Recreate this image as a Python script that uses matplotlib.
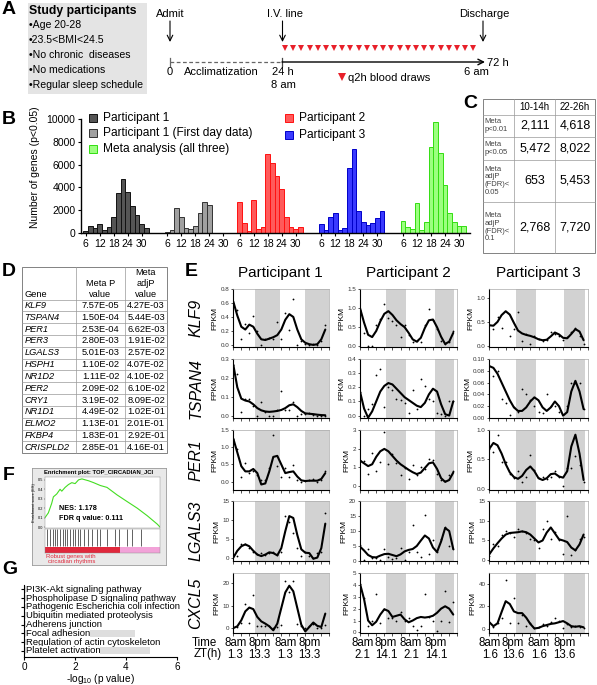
import matplotlib
matplotlib.use("Agg")
import matplotlib.pyplot as plt
from matplotlib.patches import Rectangle
from matplotlib.ticker import FormatStrFormatter
import numpy as np

plt.rcParams['font.family'] = ['Liberation Sans', 'DejaVu Sans']
plt.rcParams['mathtext.default'] = 'regular'

# ---------------- data ----------------

# panel A
participant_info = ["•Age 20-28", "•23.5<BMI<24.5", "•No chronic  diseases",
                    "•No medications", "•Regular sleep schedule"]
draw_hours = [24, 26, 28, 30, 32, 34, 36, 38, 40, 42, 44, 46,
              48, 50, 52, 54, 56, 58, 60, 62, 64, 66, 68, 70]

# panel B (period in hours, number of genes)
periods_p1 = [6, 8, 10, 12, 14, 16, 18, 20, 22, 24, 26, 28, 30, 32]
counts_p1 = [150, 650, 450, 800, 250, 500, 1400, 3550, 4750, 3600, 2350, 1600, 800, 400]
periods_p1_day1 = [6, 8, 10, 12, 14, 16, 18, 20, 22, 24]
counts_p1_day1 = [50, 300, 2200, 1400, 450, 350, 600, 1750, 2700, 2450]
periods_p2 = [6, 8, 10, 12, 14, 16, 18, 20, 22, 24, 26, 28, 30, 32]
counts_p2 = [2700, 900, 200, 2900, 350, 500, 6900, 6150, 5000, 3900, 1400, 550, 350, 500]
periods_p3 = [6, 8, 10, 12, 14, 16, 18, 20, 22, 24, 26, 28, 30, 32]
counts_p3 = [800, 300, 1400, 1750, 250, 400, 5700, 7400, 1900, 950, 700, 900, 1300, 1900]
periods_meta = [6, 8, 10, 12, 14, 16, 18, 20, 22, 24, 26, 28, 30, 32]
counts_meta = [1080, 550, 380, 2630, 260, 940, 7570, 9700, 7000, 4200, 1780, 990, 610, 610]
b_ticks = [6, 12, 18, 24, 30]

# panel C
c_cols = ["10-14h", "22-26h"]
c_rows = ["Meta\np<0.01", "Meta\np<0.05", "Meta\nadjP\n(FDR)<\n0.05", "Meta\nadjP\n(FDR)<\n0.1"]
c_10_14 = ["2,111", "5,472", "653", "2,768"]
c_22_26 = ["4,618", "8,022", "5,453", "7,720"]

# panel D
d_genes = ["KLF9", "TSPAN4", "PER1", "PER3", "LGALS3", "HSPH1", "NR1D2",
           "PER2", "CRY1", "NR1D1", "ELMO2", "FKBP4", "CRISPLD2"]
d_meta_p = ["7.57E-05", "1.50E-04", "2.53E-04", "2.80E-03", "5.01E-03", "1.10E-02", "1.11E-02",
            "2.09E-02", "3.19E-02", "4.49E-02", "1.13E-01", "1.83E-01", "2.85E-01"]
d_adj_p = ["4.27E-03", "5.44E-03", "6.62E-03", "1.91E-02", "2.57E-02", "4.07E-02", "4.10E-02",
           "6.10E-02", "8.09E-02", "1.02E-01", "2.01E-01", "2.92E-01", "4.16E-01"]

# panel E (sampling time in hours since 8 am, FPKM; three participants per gene)
e_hours = [0, 2, 4, 6, 8, 10, 12, 14, 16, 18, 20, 22,
           24, 26, 28, 30, 32, 34, 36, 38, 40, 42, 44, 46]
KLF9_fit = [
    [0.62, 0.42, 0.26, 0.22, 0.29, 0.26, 0.16, 0.08, 0.07, 0.09, 0.11, 0.14, 0.22, 0.36, 0.44, 0.40, 0.22, 0.08, 0.03, 0.01, 0.0, 0.01, 0.08, 0.22],
    [1.0, 0.62, 0.30, 0.24, 0.40, 0.65, 0.85, 0.92, 0.82, 0.68, 0.58, 0.50, 0.35, 0.18, 0.12, 0.22, 0.48, 0.68, 0.70, 0.50, 0.25, 0.06, 0.12, 0.35],
    [0.43, 0.42, 0.50, 0.64, 0.72, 0.65, 0.48, 0.32, 0.26, 0.23, 0.21, 0.18, 0.14, 0.12, 0.13, 0.20, 0.28, 0.24, 0.17, 0.16, 0.25, 0.35, 0.30, 0.12]]
KLF9_pts = [
    [0.60, 0.50, 0.09, 0.30, 0.17, 0.41, 0.20, 0.00, 0.08, 0.10, 0.09, 0.33, 0.08, 0.45, 0.22, 0.65, 0.00, 0.05, 0.02, 0.00, 0.01, 0.00, 0.05, 0.28],
    [0.95, 0.35, 0.00, 0.00, 0.55, 0.72, 1.10, 0.75, 0.65, 0.55, 0.25, 0.55, 0.30, 0.10, 0.15, 0.12, 0.55, 0.98, 0.70, 0.45, 0.15, 0.05, 0.10, 0.40],
    [0.43, 0.35, 0.60, 0.37, 1.24, 0.20, 0.35, 0.70, 0.10, 0.25, 0.05, 0.20, 0.15, 0.10, 0.13, 0.30, 0.25, 0.20, 0.12, 0.18, 0.30, 0.38, 0.20, 0.05]]
TSPAN4_fit = [
    [0.27, 0.15, 0.09, 0.08, 0.075, 0.06, 0.04, 0.028, 0.022, 0.02, 0.022, 0.025, 0.03, 0.04, 0.055, 0.06, 0.045, 0.025, 0.012, 0.01, 0.008, 0.005, 0.003, 0.002],
    [0.17, 0.05, -0.015, 0.03, 0.10, 0.17, 0.21, 0.23, 0.22, 0.19, 0.16, 0.13, 0.11, 0.09, 0.07, 0.06, 0.09, 0.15, 0.19, 0.17, 0.08, 0.01, 0.0, 0.10],
    [0.088, 0.085, 0.075, 0.06, 0.045, 0.03, 0.018, 0.012, 0.012, 0.018, 0.028, 0.035, 0.03, 0.018, 0.012, 0.018, 0.028, 0.02, 0.004, 0.01, 0.045, 0.063, 0.045, 0.015]]
TSPAN4_pts = [
    [0.27, 0.22, 0.02, 0.09, 0.09, 0.05, 0.00, 0.07, 0.02, 0.00, 0.00, 0.03, 0.13, 0.03, 0.03, 0.07, 0.00, 0.01, 0.01, 0.015, 0.005, 0.00, 0.00, 0.00],
    [0.17, 0.00, 0.05, 0.08, 0.29, 0.33, 0.06, 0.20, 0.18, 0.12, 0.11, 0.09, 0.02, 0.18, 0.05, 0.26, 0.21, 0.12, 0.10, 0.02, 0.01, 0.00, 0.10, 0.10],
    [0.088, 0.072, 0.08, 0.033, 0.025, 0.005, 0.018, 0.01, 0.05, 0.04, 0.03, 0.02, 0.01, 0.008, 0.04, 0.02, 0.02, 0.01, 0.00, 0.02, 0.06, 0.06, 0.06, 0.015]]
PER1_fit = [
    [1.25, 0.85, 0.45, 0.30, 0.30, 0.37, 0.25, -0.08, -0.05, 0.30, 0.72, 0.75, 0.50, 0.25, 0.28, 0.30, 0.15, 0.04, 0.02, 0.03, 0.03, 0.03, 0.08, 0.25],
    [1.35, 1.20, 1.05, 1.15, 1.55, 1.85, 1.98, 1.85, 1.60, 1.35, 1.15, 1.00, 0.85, 0.72, 0.62, 0.70, 0.95, 1.20, 1.25, 0.90, 0.40, 0.20, 0.30, 0.70],
    [0.68, 0.78, 0.74, 0.60, 0.42, 0.28, 0.20, 0.17, 0.22, 0.32, 0.38, 0.30, 0.18, 0.15, 0.18, 0.25, 0.26, 0.21, 0.19, 0.30, 0.72, 0.92, 0.60, 0.15]]
PER1_pts = [
    [1.25, 0.95, 0.15, 0.55, 0.25, 0.30, 0.20, 0.05, 0.05, 0.40, 1.35, 0.45, 0.15, 0.40, 0.15, 0.48, 0.05, 0.00, 0.02, 0.05, 0.08, 0.00, 0.05, 0.30],
    [1.40, 1.30, 0.65, 1.75, 0.80, 1.25, 2.90, 1.15, 1.70, 1.20, 0.55, 0.95, 0.35, 1.10, 0.55, 1.00, 0.90, 1.45, 1.40, 0.60, 0.30, 0.25, 0.55, 0.80],
    [0.68, 0.62, 0.92, 0.45, 0.45, 0.25, 0.18, 0.30, 0.12, 0.20, 0.58, 0.32, 0.18, 0.20, 0.17, 0.20, 0.30, 0.20, 0.05, 0.35, 0.35, 0.55, 0.40, 0.12]]
LGALS3_fit = [
    [0.0, 1.8, 3.0, 3.5, 3.0, 1.8, 0.8, 0.4, 0.8, 1.4, 1.2, 0.6, 2.5, 7.0, 11.0, 10.5, 6.0, 2.2, 1.3, 1.2, -0.3, 0.0, 2.5, 9.0],
    [4.8, 3.5, 2.0, 1.3, 1.2, 1.8, 2.3, 2.4, 2.0, 1.6, 2.2, 3.2, 3.7, 4.0, 5.0, 6.8, 8.5, 7.5, 4.5, 3.0, 6.5, 11.0, 10.0, 4.0],
    [1.5, 3.0, 4.3, 5.5, 6.5, 6.9, 7.0, 7.1, 7.3, 7.1, 6.5, 5.5, 4.5, 5.0, 7.0, 8.3, 6.8, 5.3, 5.0, 4.6, 3.2, 2.5, 4.0, 6.5]]
LGALS3_pts = [
    [0.5, 0.3, 3.5, 3.5, 2.5, 1.5, 1.0, 1.3, 0.8, 1.3, 1.5, 0.8, 1.5, 11.0, 9.5, 6.5, 2.5, 0.5, 1.5, 0.3, 0.0, 1.2, 1.5, 11.8],
    [5.5, 0.5, 4.0, 1.0, 1.0, 0.5, 4.0, 1.5, 0.8, 1.0, 4.5, 0.5, 3.0, 12.0, 3.0, 1.5, 15.5, 2.5, 7.0, 3.0, 7.5, 11.5, 5.0, 4.0],
    [1.0, 4.0, 3.5, 6.5, 7.5, 7.0, 6.0, 7.8, 7.5, 7.0, 5.5, 5.0, 3.0, 8.0, 10.0, 5.5, 7.2, 5.0, 1.5, 11.2, 1.2, 2.5, 5.5, 6.0]]
CXCL5_fit = [
    [0.0, 0.8, 3.5, 7.5, 9.2, 8.5, 5.0, 3.0, 2.0, 0.8, -1.0, 2.0, 9.0, 16.0, 19.0, 16.5, 9.0, 1.5, -1.5, 0.5, 2.5, 1.0, 0.5, 6.5],
    [4.1, 2.8, 1.0, 0.6, 0.9, 1.5, 1.95, 1.8, 1.3, 1.4, 1.5, 1.1, 0.85, 1.0, 1.2, 1.3, 1.25, 1.3, 1.4, 1.65, 2.0, 2.2, 2.0, 1.5],
    [6.0, 2.5, 5.0, 15.0, 24.5, 22.0, 15.5, 14.0, 14.0, 10.0, 4.5, 0.5, 1.0, 2.5, 3.5, 4.5, 5.0, 6.0, 7.0, 5.0, 2.5, 2.0, 2.5, 1.5]]
CXCL5_pts = [
    [0.3, 0.3, 2.5, 11.0, 2.5, 15.0, 1.0, 1.0, 1.0, 1.0, 0.0, 0.5, 1.5, 21.0, 16.0, 21.0, 2.0, 1.0, 0.0, 1.0, 2.0, 0.0, 0.0, 1.5],
    [4.1, 2.9, 0.5, 1.0, 3.2, 0.8, 2.0, 1.2, 1.2, 1.0, 1.7, 1.0, 1.2, 0.5, 0.2, 0.5, 3.2, 1.3, 1.0, 0.1, 1.0, 3.5, 0.9, 2.6],
    [6.0, 1.5, 5.0, 10.0, 43.0, 5.0, 27.0, 5.0, 12.0, 3.0, 5.0, 1.0, 2.0, 4.0, 3.0, 6.0, 10.0, 7.0, 1.0, 4.0, 2.0, 3.0, 2.0, 1.0]]
night_spans = [[(11, 23.5), (35.8, 48)], [(13, 22.5), (37, 46.5)], [(13, 23), (36.5, 46.5)]]
time_labels = ["8am", "8pm", "8am", "8pm"]
zt_labels = [["1.3", "13.3", "1.3", "13.3"], ["2.1", "14.1", "2.1", "14.1"], ["1.6", "13.6", "1.6", "13.6"]]
label_hours = [[1, 13, 26, 38], [1.2, 12.8, 25.2, 37.5], [0.3, 11.5, 24.3, 36.6]]

# panel F
es_rank = [0, .029, .058, .073, .102, .131, .146, .175, .204, .233, .262, .292,
           .321, .350, .379, .423, .481, .539, .627, .714, .802, .889, .977, 1.0]
es_score = [0.10, 0.15, 0.25, 0.32, 0.35, 0.40, 0.38, 0.42, 0.45, 0.47, 0.46, 0.50,
            0.51, 0.50, 0.49, 0.47, 0.44, 0.42, 0.34, 0.27, 0.20, 0.12, 0.03, 0.0]
hit_rank = [0.015, 0.044, 0.067, 0.087, 0.108, 0.131, 0.155, 0.175, 0.19, 0.219, 0.242, 0.262,
            0.283, 0.306, 0.335, 0.370, 0.408, 0.452, 0.481, 0.539, 0.612, 0.641, 0.714, 0.758, 0.831]

# panel G
g_terms = ["PI3K-Akt signaling pathway", "Phospholipase D signaling pathway",
           "Pathogenic Escherichia coli infection", "Ubiquitin mediated proteolysis",
           "Adherens junction", "Focal adhesion", "Regulation of actin cytoskeleton",
           "Platelet activation"]
g_vals = [2.2, 2.4, 2.6, 2.7, 2.8, 4.35, 4.6, 4.95]

# ---------------- figure ----------------
W, H = 597, 685
fig = plt.figure(figsize=(W / 100, H / 100), dpi=100)


def px_axes(x0, y0, x1, y1):
    return fig.add_axes([x0 / W, 1 - y1 / H, (x1 - x0) / W, (y1 - y0) / H])


# ---- B ----
axb = px_axes(81, 119, 470, 233)
groups = [(periods_p1, counts_p1, 0, '#555555', '#111111'),
          (periods_p1_day1, counts_p1_day1, 35, '#a0a0a0', '#333333'),
          (periods_p2, counts_p2, 66, '#ff5a5a', '#ff1010'),
          (periods_p3, counts_p3, 101, '#3a3aff', '#0000c8'),
          (periods_meta, counts_meta, 136, '#9cff80', '#33dd11')]
xt, xl = [], []
for per, cnt, off, fc, ec in groups:
    axb.bar(np.array(per) + off, cnt, width=2, color=fc, edgecolor=ec, linewidth=0.7)
    xt += [t + off for t in b_ticks]
    xl += [str(t) for t in b_ticks]
axb.set_xlim(4, 170.7)
axb.set_ylim(0, 10000)
axb.set_yticks(range(0, 10001, 2000))
axb.set_xticks(xt)
axb.set_xticklabels(xl)
axb.tick_params(labelsize=7.5, length=2.5, width=0.8, pad=1.5)
for s in ['top', 'right']:
    axb.spines[s].set_visible(False)
for s in ['left', 'bottom']:
    axb.spines[s].set_linewidth(1.0)

# ---- E ----
col_x = [(233.3, 329.3), (360, 457.3), (489.3, 587.7)]
row_y = [(289, 347), (359, 418), (430, 490), (501, 561), (573, 633)]
e_data = [(KLF9_fit, KLF9_pts), (TSPAN4_fit, TSPAN4_pts), (PER1_fit, PER1_pts),
          (LGALS3_fit, LGALS3_pts), (CXCL5_fit, CXCL5_pts)]
e_yticks = [
    [[0, 0.2, 0.4, 0.6, 0.8], [0, 0.5, 1.0, 1.5], [0, 0.5, 1.0]],
    [[0, 0.1, 0.2, 0.3], [0, 0.1, 0.2, 0.3, 0.4], [0, 0.02, 0.04, 0.06, 0.08, 0.10]],
    [[0, 0.5, 1.0, 1.5], [0, 1, 2, 3], [0, 0.5, 1.0]],
    [[0, 5, 10, 15], [0, 5, 10, 15, 20], [0, 5, 10, 15]],
    [[0, 10, 20], [0, 1, 2, 3, 4, 5], [0, 20, 40]],
]
e_fmt = [['%.1f', '%.1f', '%.1f'], ['%.1f', '%.1f', '%.2f'], ['%.1f', '%d', '%.1f'],
         ['%d', '%d', '%d'], ['%d', '%d', '%d']]
e_ylims = [
    [(-0.03, 0.8), (-0.02, 1.5), (-0.02, 1.18)],
    [(-0.0125, 0.3), (-0.017, 0.4), (0, 0.1)],
    [(-0.24, 1.5), (-0.24, 3), (-0.02, 1.0)],
    [(-0.9, 15), (0, 20), (-0.2, 15)],
    [(-2.2, 24.7), (-0.05, 5), (-3.5, 49.3)],
]
for r in range(5):
    fit, pts = e_data[r]
    for c in range(3):
        ax = px_axes(col_x[c][0], row_y[r][0], col_x[c][1], row_y[r][1])
        for a, b in night_spans[c]:
            ax.axvspan(a, b, color='#d2d2d2', lw=0)
        ax.plot(e_hours, fit[c], color='k', lw=1.5, solid_capstyle='round')
        ax.plot(e_hours, pts[c], 'o', color='k', ms=1.3, mew=0)
        ax.set_xlim(0, 48)
        ax.set_ylim(*e_ylims[r][c])
        ax.set_yticks(e_yticks[r][c])
        ax.yaxis.set_major_formatter(FormatStrFormatter(e_fmt[r][c]))
        ax.set_xticks(range(0, 49, 4))
        ax.set_xticklabels([])
        ax.tick_params(labelsize=4.5, length=1.8, width=0.6, pad=1, colors='#333333')
        ax.set_ylabel('FPKM', fontsize=6, labelpad=1.5)
        for s in ['top', 'right']:
            ax.spines[s].set_color('#aaaaaa')
            ax.spines[s].set_linewidth(0.5)
        for s in ['left', 'bottom']:
            ax.spines[s].set_linewidth(0.8)
        if r == 4:
            for h, tl, zl in zip(label_hours[c], time_labels, zt_labels[c]):
                ax.annotate(tl, xy=(h, 0), xycoords=('data', 'axes fraction'),
                            xytext=(0, -7.5), textcoords='offset points',
                            ha='center', va='center', fontsize=8.3, annotation_clip=False)
                ax.annotate(zl, xy=(h, 0), xycoords=('data', 'axes fraction'),
                            xytext=(0, -15.5), textcoords='offset points',
                            ha='center', va='center', fontsize=8.3, annotation_clip=False)

# ---- F ----
axf_bg = px_axes(31.7, 468, 166, 565)
axf_bg.set_facecolor('#e9e9e9')
axf_bg.set_xticks([])
axf_bg.set_yticks([])
for s in axf_bg.spines.values():
    s.set_color('#999999')
    s.set_linewidth(0.6)
axf_bg.text(0.5, 0.955, 'Enrichment plot: TOP_CIRCADIAN_JCI', transform=axf_bg.transAxes,
            ha='center', va='center', fontsize=4.2, fontweight='bold')

axf = px_axes(45, 477, 160, 528)
axf.plot(es_rank, es_score, color='#44dd22', lw=0.8)
axf.set_xlim(0, 1)
axf.set_ylim(-0.01, 0.53)
axf.set_xticks([])
axf.set_yticks([0, 0.1, 0.2, 0.3, 0.4, 0.5])
axf.yaxis.set_major_formatter(FormatStrFormatter('%.1f'))
axf.tick_params(labelsize=2.8, length=1, width=0.3, pad=0.5)
axf.set_ylabel('Enrichment score (ES)', fontsize=2.8, labelpad=1)
for s in axf.spines.values():
    s.set_linewidth(0.3)
    s.set_color('#888888')
axf.text(0.12, 0.36, 'NES: 1.178', transform=axf.transAxes, fontsize=5.2, fontweight='bold')
axf.text(0.12, 0.16, 'FDR q value: 0.111', transform=axf.transAxes, fontsize=5.2, fontweight='bold')

axh = px_axes(45, 529, 160, 553)
axh.set_xlim(0, 1)
axh.set_ylim(0, 1)
axh.vlines(hit_rank, 0.3, 1.0, color='#222222', lw=0.5)
axh.axhspan(0, 0.27, xmin=0, xmax=0.656, color='#e0283c', lw=0)
axh.axhspan(0, 0.27, xmin=0.656, xmax=1, color='#f2a2d8', lw=0)
axh.set_xticks([])
axh.set_yticks([])
for s in axh.spines.values():
    s.set_linewidth(0.3)
    s.set_color('#888888')

# ---- G ----
axg = px_axes(24, 585, 177, 657)
yy = np.arange(len(g_terms))
axg.barh(yy, g_vals, height=0.78, color='#dedede', lw=0)
for i, term in enumerate(g_terms):
    axg.text(0.07, i, term, va='center', ha='left', fontsize=6.8,
             bbox=dict(fc='white', ec='none', pad=0))
axg.set_xlim(0, 6)
axg.set_ylim(7.7, -0.5)
axg.set_yticks(yy)
axg.set_yticklabels([])
axg.set_xticks([0, 2, 4, 6])
axg.tick_params(labelsize=7.2, length=2.5, width=0.8, pad=0.8)
for s in ['top', 'right']:
    axg.spines[s].set_visible(False)

# timeline triangles (panel A)
axt = px_axes(285, 44, 473.3, 52)
axt.plot(draw_hours, [0] * len(draw_hours), 'v', color='#e8202a', ms=4.2, mew=0, clip_on=False)
axt.set_xlim(24, 70)
axt.set_ylim(-1, 1)
axt.axis('off')

# ---------------- overlay (text, tables, annotations) ----------------
ov = fig.add_axes([0, 0, 1, 1])
ov.set_xlim(0, W)
ov.set_ylim(H, 0)
ov.axis('off')

for lab, x, y in [('A', 2, 9), ('B', 2, 119), ('C', 463, 103), ('D', 2, 271),
                  ('E', 185, 271), ('F', 3, 475), ('G', 2, 569)]:
    ov.text(x, y, lab, fontsize=14, fontweight='bold', va='center', ha='left')

# A: participants box
ov.add_patch(Rectangle((28, 3), 119, 91, fc='#e4e4e4', ec='none'))
ov.text(29, 11, 'Study participants', fontsize=8.8, fontweight='bold', va='center')
for i, line in enumerate(participant_info):
    ov.text(29, 25 + i * 15, line, fontsize=7.6, va='center')

# A: timeline
ov.plot([170, 282], [62, 62], color='#666666', lw=0.9, ls=(0, (3, 2)))
ov.plot([170, 170], [58, 66], color='#666666', lw=0.9)
ov.plot([282, 282], [58, 66], color='#444444', lw=0.9)
ov.annotate('', xy=(485, 62), xytext=(282, 62),
            arrowprops=dict(arrowstyle='->', lw=1.0, color='k', shrinkA=0, shrinkB=0))
for x, txt in [(170, 'Admit'), (285, 'I.V. line'), (484, 'Discharge')]:
    ov.text(x, 14, txt, fontsize=8, ha='center', va='center')
for x in [170, 282.5, 483]:
    ov.annotate('', xy=(x, 42), xytext=(x, 21),
                arrowprops=dict(arrowstyle='->', lw=0.8, color='k', shrinkA=0, shrinkB=0))
ov.text(487, 63, '72 h', fontsize=8, ha='left', va='center')
ov.text(170, 71.5, '0', fontsize=8, ha='center', va='center')
ov.text(221, 71.5, 'Acclimatization', fontsize=8, ha='center', va='center')
ov.text(283, 71.5, '24 h', fontsize=8, ha='center', va='center')
ov.text(283, 85, '8 am', fontsize=8, ha='center', va='center')
ov.text(476, 71.5, '6 am', fontsize=8, ha='center', va='center')
ov.plot([342], [77], 'v', color='#e8202a', ms=6, mew=0)
ov.text(348, 78, 'q2h blood draws', fontsize=8, ha='left', va='center')

# B: legend + y label
legend_items = [(89, 117.5, '#555555', '#111111', 'Participant 1'),
                (89, 132.5, '#a0a0a0', '#333333', 'Participant 1 (First day data)'),
                (89, 148.5, '#9cff80', '#33dd11', 'Meta analysis (all three)'),
                (285, 118, '#ff5a5a', '#ff1010', 'Participant 2'),
                (285, 135, '#3a3aff', '#0000c8', 'Participant 3')]
for x, y, fc, ec, txt in legend_items:
    ov.add_patch(Rectangle((x, y - 4), 8, 8, fc=fc, ec=ec, lw=0.7))
    ov.text(x + 14, y, txt, fontsize=8.6, va='center', ha='left')
ov.text(35, 167, 'Number of genes (p<0.05)', fontsize=7.5, rotation=90, ha='center', va='center')

# C: table
cx = [483, 514.3, 555, 595]
cy = [99, 115, 136.7, 160, 201.7, 252.7]
for y in cy:
    ov.plot([cx[0], cx[-1]], [y, y], color='#999999', lw=0.5)
for x in cx:
    ov.plot([x, x], [cy[0], cy[-1]], color='#999999', lw=0.5)
ov.add_patch(Rectangle((cx[0], cy[0]), cx[-1] - cx[0], cy[-1] - cy[0], fc='none', ec='#555555', lw=0.7))
for j, txt in enumerate(c_cols):
    ov.text((cx[j + 1] + cx[j + 2]) / 2, (cy[0] + cy[1]) / 2, txt, fontsize=7, ha='center', va='center')
for i in range(4):
    ym = (cy[i + 1] + cy[i + 2]) / 2
    ov.text(cx[0] + 1.5, ym, c_rows[i], fontsize=5.5, ha='left', va='center', color='#444444', linespacing=1.15)
    ov.text((cx[1] + cx[2]) / 2, ym, c_10_14[i], fontsize=9, ha='center', va='center')
    ov.text((cx[2] + cx[3]) / 2, ym, c_22_26[i], fontsize=9, ha='center', va='center')

# D: table
dx = [22, 76, 125, 167]
d_top, d_head = 267, 299.5
d_rh = 11.83
dy = [d_top, d_head] + [d_head + d_rh * (i + 1) for i in range(len(d_genes))]
for y in dy:
    ov.plot([dx[0], dx[-1]], [y, y], color='#999999', lw=0.5)
for x in dx:
    ov.plot([x, x], [dy[0], dy[-1]], color='#999999', lw=0.5)
ov.add_patch(Rectangle((dx[0], dy[0]), dx[-1] - dx[0], dy[-1] - dy[0], fc='none', ec='#555555', lw=0.7))
ov.text(dx[0] + 2.5, 294.5, 'Gene', fontsize=6.7, ha='left', va='center')
ov.text((dx[1] + dx[2]) / 2, 289, 'Meta P\nvalue', fontsize=6.7, ha='center', va='center', linespacing=1.3)
ov.text((dx[2] + dx[3]) / 2, 283.5, 'Meta\nadjP\nvalue', fontsize=6.7, ha='center', va='center', linespacing=1.3)
for i, g in enumerate(d_genes):
    ym = d_head + d_rh * (i + 0.5)
    ov.text(dx[0] + 2.5, ym, g, fontsize=6.7, ha='left', va='center', style='italic')
    ov.text((dx[1] + dx[2]) / 2, ym, d_meta_p[i], fontsize=6.7, ha='center', va='center')
    ov.text((dx[2] + dx[3]) / 2, ym, d_adj_p[i], fontsize=6.7, ha='center', va='center')

# E: titles, gene labels, time rows
for c, x in enumerate([280, 408, 538]):
    ov.text(x, 273, 'Participant %d' % (c + 1), fontsize=11, ha='center', va='center')
for r, g in enumerate(['KLF9', 'TSPAN4', 'PER1', 'LGALS3', 'CXCL5']):
    ov.text(196, (row_y[r][0] + row_y[r][1]) / 2, g, fontsize=11.5, style='italic',
            rotation=90, ha='center', va='center')
ov.text(217, 643, 'Time', fontsize=8.3, ha='right', va='center')
ov.text(222, 654.5, 'ZT(h)', fontsize=8.3, ha='right', va='center')

# F: caption under colour bar
ov.text(46, 556.5, 'Robust genes with', fontsize=4.3, color='#e0283c', va='center')
ov.text(48, 562, 'circadian rhythms', fontsize=4.3, color='#e0283c', va='center')

# G: x label
ov.text(100, 679.5, '-log$_{10}$ (p value)', fontsize=7.3, ha='center', va='center')

fig.savefig('out.png', dpi=100)
